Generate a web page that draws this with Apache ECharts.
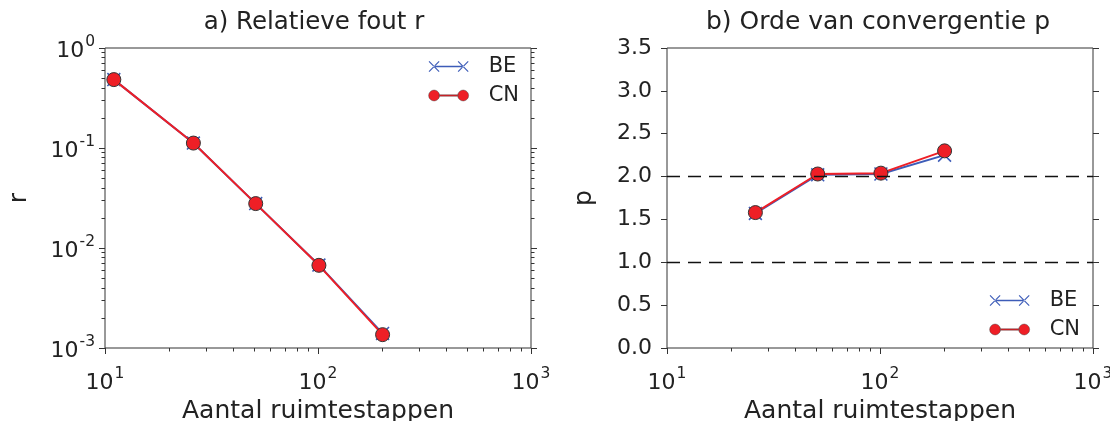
<!DOCTYPE html>
<html>
<head>
<meta charset="utf-8">
<script src="https://cdn.jsdelivr.net/npm/echarts@6/dist/echarts.min.js"></script>
<style>
html,body{margin:0;padding:0;background:#fff;}
#chart{width:1110px;height:421px;}
</style>
</head>
<body>
<div id="chart"></div>
<script>
// ---- data ----
const stepsR = [11, 26, 51, 101, 201];
const rBE = [0.483, 0.112, 0.0278, 0.00675, 0.00140];
const rCN = [0.483, 0.112, 0.0278, 0.00671, 0.00136];
const stepsP = [26, 51, 101, 201];
const pBE = [1.57, 2.02, 2.03, 2.25];
const pCN = [1.58, 2.03, 2.04, 2.30];
const refLines = [1.0, 2.0];
const xMinorTicks = [20, 30, 40, 50, 60, 70, 80, 90, 200, 300, 400, 500, 600, 700, 800, 900];
const yMinorTicksR = [0.002, 0.003, 0.004, 0.005, 0.006, 0.007, 0.008, 0.009,
  0.02, 0.03, 0.04, 0.05, 0.06, 0.07, 0.08, 0.09, 0.2, 0.3, 0.4, 0.5, 0.6, 0.7, 0.8, 0.9];
const titles = ['a) Relatieve fout r', 'b) Orde van convergentie p'];
const xName = 'Aantal ruimtestappen';

const FONT = 'DejaVu Sans';
const TXT = '#222';
const AX = '#333';
const BLUE = '#3d5cb8';
const RED = '#ee1f26';

const pow10 = v => {
  const e = Math.round(Math.log10(v));
  return '{b|10}{s|' + e + '}';
};
const rich = {
  b: {fontFamily: FONT, fontSize: 22, color: TXT, lineHeight: 28, verticalAlign: 'bottom'},
  s: {fontFamily: FONT, fontSize: 15.5, color: TXT, lineHeight: 28, verticalAlign: 'top', padding: [0, 0, 0, 1]}
};

const xSym = 'path://M0,0.8 L0.8,0 L10,9.2 L9.2,10 Z M0,9.2 L0.8,10 L10,0.8 L9.2,0 Z';
const beIcon = 'path://M0,0.9 L0.9,0 L12,11.1 L11.1,12 Z M0,11.1 L0.9,12 L12,0.9 L11.1,0 Z ' +
  'M6,5.3 L38,5.3 L38,6.7 L6,6.7 Z ' +
  'M32,0.9 L32.9,0 L44,11.1 L43.1,12 Z M32,11.1 L32.9,12 L44,0.9 L43.1,0 Z';
const cnIcon = 'path://M0,6 A6,6 0 1 0 12,6 A6,6 0 1 0 0,6 Z ' +
  'M11.5,5.2 L32.5,5.2 L32.5,6.8 L11.5,6.8 Z ' +
  'M32,6 A6,6 0 1 0 44,6 A6,6 0 1 0 32,6 Z';

const grids = [
  {left: 105, right: 579, top: 48, bottom: 73, show: true, borderColor: AX, borderWidth: 1,
   backgroundColor: 'transparent', outerBoundsMode: 'none', containLabel: false},
  {left: 667, right: 17, top: 48, bottom: 73, show: true, borderColor: AX, borderWidth: 1,
   backgroundColor: 'transparent', outerBoundsMode: 'none', containLabel: false}
];

function logX(gi, withLabels) {
  return {
    type: 'log', logBase: 10, min: 10, max: 1000, gridIndex: gi, position: 'bottom',
    name: withLabels ? xName : '', nameLocation: 'middle', nameGap: 48,
    nameTextStyle: {fontFamily: FONT, fontSize: 25, color: TXT},
    axisLine: {show: false},
    splitLine: {show: false},
    axisTick: withLabels ? {show: true, inside: false, length: 6, lineStyle: {color: AX}}
      : {show: true, inside: false, length: 3.5, lineStyle: {color: AX}, customValues: xMinorTicks},
    axisLabel: withLabels ? {show: true, margin: 18, formatter: pow10, rich: rich} : {show: false}
  };
}

const xAxes = [logX(0, true), logX(0, false), logX(1, true), logX(1, false)];

const yAxes = [
  {type: 'log', logBase: 10, min: 0.001, max: 1, gridIndex: 0, position: 'left',
   name: 'r', nameLocation: 'middle', nameGap: 73, nameRotate: 90,
   nameTextStyle: {fontFamily: FONT, fontSize: 25, color: TXT},
   axisLine: {show: false}, splitLine: {show: false},
   axisTick: {show: true, length: 6, lineStyle: {color: AX}},
   axisLabel: {show: true, margin: 10, formatter: pow10, rich: rich}},
  {type: 'log', logBase: 10, min: 0.001, max: 1, gridIndex: 0, position: 'left',
   axisLine: {show: false}, splitLine: {show: false},
   axisTick: {show: true, length: 3.5, lineStyle: {color: AX}, customValues: yMinorTicksR},
   axisLabel: {show: false}},
  {type: 'log', logBase: 10, min: 0.001, max: 1, gridIndex: 0, position: 'right',
   axisLine: {show: false}, splitLine: {show: false},
   axisTick: {show: true, length: 6, lineStyle: {color: AX}},
   axisLabel: {show: false}},
  {type: 'log', logBase: 10, min: 0.001, max: 1, gridIndex: 0, position: 'right',
   axisLine: {show: false}, splitLine: {show: false},
   axisTick: {show: true, length: 3.5, lineStyle: {color: AX}, customValues: yMinorTicksR},
   axisLabel: {show: false}},
  {type: 'value', min: 0, max: 3.5, interval: 0.5, gridIndex: 1, position: 'left',
   name: 'p', nameLocation: 'middle', nameGap: 70, nameRotate: 90,
   nameTextStyle: {fontFamily: FONT, fontSize: 25, color: TXT},
   axisLine: {show: false}, splitLine: {show: false},
   axisTick: {show: true, length: 6, lineStyle: {color: AX}},
   axisLabel: {show: true, margin: 15, fontFamily: FONT, fontSize: 22, color: TXT,
     formatter: v => v.toFixed(1)}},
  {type: 'value', min: 0, max: 3.5, interval: 0.5, gridIndex: 1, position: 'right',
   axisLine: {show: false}, splitLine: {show: false},
   axisTick: {show: true, length: 6, lineStyle: {color: AX}},
   axisLabel: {show: false}}
];

function beSeries(xi, yi, xs, ys) {
  return {
    name: 'BE', type: 'line', xAxisIndex: xi, yAxisIndex: yi,
    data: xs.map((x, i) => [x, ys[i]]),
    symbol: xSym, symbolSize: 14, showAllSymbol: true,
    lineStyle: {color: BLUE, width: 2},
    itemStyle: {color: BLUE},
    z: 3, animation: false
  };
}
function cnSeries(xi, yi, xs, ys, extra) {
  return Object.assign({
    name: 'CN', type: 'line', xAxisIndex: xi, yAxisIndex: yi,
    data: xs.map((x, i) => [x, ys[i]]),
    symbol: 'circle', symbolSize: 14, showAllSymbol: true,
    lineStyle: {color: RED, width: 2},
    itemStyle: {color: RED, borderColor: '#333', borderWidth: 1},
    z: 4, animation: false
  }, extra || {});
}

const series = [
  beSeries(0, 0, stepsR, rBE),
  cnSeries(0, 0, stepsR, rCN),
  beSeries(2, 4, stepsP, pBE),
  cnSeries(2, 4, stepsP, pCN, {
    markLine: {
      silent: true, symbol: ['none', 'none'], label: {show: false}, animation: false,
      lineStyle: {color: '#111', width: 1.3, type: [13, 8]},
      data: refLines.map(v => ({yAxis: v}))
    }
  })
];

function legend(pos) {
  return Object.assign({
    orient: 'vertical', itemWidth: 40, itemHeight: 14, itemGap: 8,
    selectedMode: false,
    textStyle: {fontFamily: FONT, fontSize: 21, color: TXT, padding: [0, 0, 0, 15]},
    data: [
      {name: 'BE', icon: beIcon, itemStyle: {color: BLUE, borderWidth: 0}},
      {name: 'CN', icon: cnIcon, itemStyle: {color: RED, borderColor: '#333', borderWidth: 0.4}}
    ]
  }, pos);
}

const option = {
  backgroundColor: '#fff',
  animation: false,
  title: [
    {text: titles[0], left: 309, top: 5, textAlign: 'center',
     textStyle: {fontFamily: FONT, fontSize: 24.5, fontWeight: 'normal', color: TXT}},
    {text: titles[1], left: 873, top: 5, textAlign: 'center',
     textStyle: {fontFamily: FONT, fontSize: 25, fontWeight: 'normal', color: TXT}}
  ],
  legend: [legend({right: 586, top: 51}), legend({right: 25, top: 285})],
  grid: grids,
  xAxis: xAxes,
  yAxis: yAxes,
  series: series
};

const chart = echarts.init(document.getElementById('chart'), null, {renderer: 'canvas'});
chart.setOption(option);
</script>
</body>
</html>
